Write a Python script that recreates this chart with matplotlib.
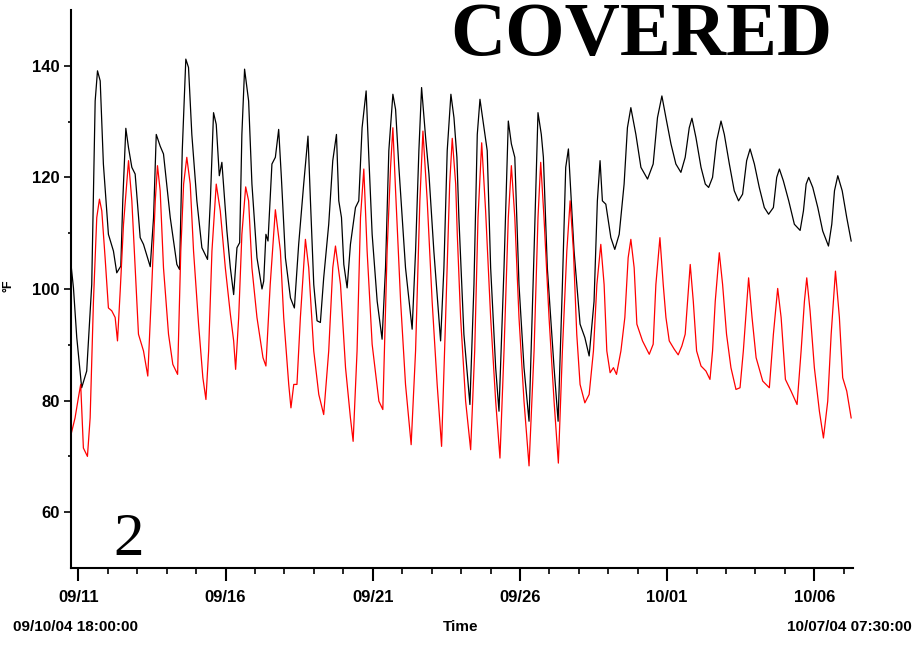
import matplotlib
matplotlib.use("Agg")
import matplotlib.pyplot as plt
import matplotlib.dates as mdates
from matplotlib import font_manager
import pandas as pd

# hours after 09/10/04 18:00 and temperatures (deg F)
hrs_top = [0, 2.0, 4.7, 8.7, 12.8, 16.9, 19.7, 21.6, 23.8, 26.4, 30.5, 34.6, 37.3, 40.6,
           42.2, 44.7, 46.9, 49.6, 52.3, 56.4, 59.1, 64.6, 67.3, 69.5, 72.7, 75.4, 80.9,
           86.3, 88.5, 90.7, 93.6, 95.8, 98.5, 102.6, 106.7, 111.3, 113.6, 116.2, 118.4,
           120.9, 123.0, 127.1, 129.9, 132.6, 135.3, 137.5, 139.3, 141.5, 144.8, 147.5,
           151.6, 155.7, 157.1, 158.9, 160.6, 163.8, 166.6, 169.3, 171.5, 174.8, 178.9,
           182.1, 185.6, 189.7, 193.2, 195.2, 197.9, 200.6, 203.3, 206.0, 210.1, 213.4,
           216.4, 218.3, 220.5, 222.4, 225.1, 227.8, 231.9, 234.6, 237.3, 240.6, 242.8,
           245.5, 249.6, 253.6, 256.4, 259.1, 262.4, 264.6, 267.3, 272.7, 278.1, 280.9,
           283.6, 285.8, 289.1, 291.8, 295.8, 301.3, 304.0, 306.7, 309.7, 312.2, 314.6,
           316.2, 320.3, 325.2, 328.5, 331.2, 333.4, 336.7, 339.3, 342.1, 346.2, 348.9,
           353.0, 356.5, 359.0, 361.8, 365.2, 369.3, 373.4, 377.5, 380.7, 383.4, 385.1,
           388.3, 393.8, 397.1, 400.6, 403.3, 405.5, 407.4, 410.1, 415.0, 418.9, 422.4,
           426.4, 429.1, 431.3, 433.2, 436.0, 440.1, 443.3, 446.9, 450.9, 453.6, 456.4,
           460.5, 464.6, 470.0, 474.6, 478.1, 481.7, 485.0, 489.1, 493.1, 497.2, 500.7,
           504.0, 506.2, 509.5, 513.6, 517.1, 519.8, 523.0, 526.3, 529.9, 532.6, 536.7,
           540.7, 544.2, 547.5, 550.8, 553.6, 557.1, 561.1, 565.2, 568.7, 572.6, 575.3,
           577.5, 580.7, 585.1, 589.7, 594.4, 597.1, 599.3, 601.4, 604.7, 608.8, 612.8,
           617.5, 620.2, 622.4, 625.1, 628.7, 632.4, 636.0]
temp_top = [104.4, 100.2, 91.3, 82.3, 85.3, 100.8, 133.7, 139.1, 137.3, 122.4, 109.8, 106.8,
            102.9, 104.1, 115.8, 128.8, 125.3, 121.8, 120.6, 109.2, 108.0, 104.0, 112.8,
            127.7, 125.6, 124.2, 112.8, 104.4, 103.5, 124.8, 141.2, 139.7, 127.7, 115.8,
            107.4, 105.3, 115.8, 131.6, 129.5, 120.3, 122.7, 110.4, 103.8, 99.0, 107.4,
            108.3, 127.7, 139.4, 133.7, 118.8, 105.6, 100.0, 101.4, 109.8, 108.6, 122.4,
            123.6, 128.6, 120.0, 105.6, 98.4, 96.6, 108.0, 118.8, 127.4, 115.8, 100.8,
            94.3, 94.0, 102.0, 111.6, 123.0, 127.7, 115.8, 112.8, 104.4, 100.2, 108.0,
            114.6, 115.8, 128.9, 135.5, 123.6, 109.8, 97.8, 91.0, 103.8, 124.8, 134.9,
            132.2, 121.8, 103.8, 92.8, 106.8, 124.8, 136.1, 127.1, 120.6, 106.8, 90.7,
            103.8, 124.8, 134.9, 130.7, 123.6, 112.8, 91.9, 79.3, 100.8, 127.7, 134.0,
            128.9, 124.8, 103.8, 85.9, 78.1, 103.8, 130.1, 126.0, 123.6, 100.8, 85.9,
            76.3, 106.8, 131.6, 127.7, 123.6, 103.8, 85.9, 76.3, 100.8, 121.8, 125.1,
            117.6, 106.8, 93.7, 91.3, 88.0, 97.8, 115.8, 123.0, 115.8, 115.2, 109.2,
            107.1, 109.8, 118.8, 128.9, 132.5, 127.7, 121.8, 119.7, 122.4, 130.7, 134.6,
            130.7, 126.0, 122.4, 120.9, 123.6, 128.9, 130.6, 127.1, 121.8, 118.8, 118.2,
            120.0, 126.5, 130.1, 127.7, 122.4, 117.6, 115.8, 117.0, 123.0, 125.1, 122.4,
            118.2, 114.6, 113.4, 114.6, 120.0, 121.5, 119.4, 115.8, 111.6, 110.5, 114.0,
            118.8, 120.0, 118.2, 114.6, 110.4, 107.7, 111.6, 117.6, 120.3, 117.6, 112.8,
            108.6]

hrs_low = [0, 3.3, 6.0, 7.9, 10.1, 13.4, 15.6, 18.3, 21.0, 23.2, 25.1, 27.8, 30.5, 33.2,
           36.0, 37.9, 40.1, 42.8, 46.9, 49.6, 52.3, 55.0, 59.1, 62.6, 65.9, 68.7, 70.5,
           72.7, 75.4, 79.5, 83.0, 86.9, 89.5, 91.8, 94.4, 97.2, 99.9, 104.0, 107.5,
           110.0, 112.2, 114.9, 118.4, 121.7, 125.8, 129.9, 132.6, 134.2, 136.7, 139.3,
           142.4, 144.8, 147.5, 151.6, 156.5, 158.9, 162.4, 166.6, 170.7, 173.4, 177.5,
           179.3, 181.6, 184.2, 187.0, 191.1, 193.8, 197.9, 202.0, 206.0, 210.1, 213.4,
           215.6, 219.7, 223.8, 227.8, 230.0, 233.2, 236.0, 238.7, 241.4, 245.5, 251.0,
           254.2, 257.7, 260.5, 262.4, 264.6, 268.7, 272.7, 277.3, 280.9, 284.4, 286.9,
           290.4, 294.4, 298.5, 302.1, 305.4, 308.7, 310.8, 313.6, 314.9, 317.6, 321.7,
           325.8, 329.1, 331.8, 334.8, 338.0, 342.1, 346.2, 349.7, 353.0, 356.5, 359.0,
           361.8, 365.2, 369.3, 373.4, 377.5, 380.7, 382.9, 385.6, 389.7, 393.8, 397.3,
           400.6, 404.2, 406.9, 409.6, 412.3, 415.0, 418.9, 422.4, 425.9, 428.7, 431.9,
           434.6, 436.8, 439.5, 442.2, 444.7, 448.3, 451.5, 454.2, 456.4, 459.1, 461.3,
           465.9, 471.4, 474.6, 476.8, 480.1, 482.8, 485.0, 487.7, 491.8, 495.0, 498.0,
           500.7, 502.6, 504.8, 507.3, 510.0, 513.6, 517.6, 520.9, 523.0, 525.2, 528.5,
           531.2, 534.4, 538.0, 542.1, 545.4, 548.1, 552.4, 555.2, 558.5, 563.9, 569.3,
           572.6, 576.1, 578.9, 582.4, 587.0, 591.9, 595.2, 597.9, 599.8, 602.5, 606.0,
           610.1, 613.4, 616.9, 619.7, 623.2, 626.4, 629.1, 632.4, 636.0]
temp_low = [73.9, 76.9, 80.5, 82.9, 71.5, 70.0, 76.9, 97.8, 112.8, 116.1, 114.0, 105.6,
            96.6, 96.1, 94.9, 90.7, 99.6, 111.6, 123.0, 115.8, 103.8, 91.9, 88.9, 84.4,
            100.8, 115.8, 122.1, 117.6, 103.8, 91.9, 86.5, 84.7, 106.8, 118.8, 123.6,
            118.8, 106.8, 93.7, 84.1, 80.2, 88.9, 106.8, 118.8, 114.0, 103.8, 95.5, 90.7,
            85.6, 94.9, 109.8, 118.3, 115.8, 103.8, 94.9, 87.7, 86.2, 100.8, 114.2, 106.8,
            94.9, 82.9, 78.7, 82.9, 82.9, 94.9, 108.9, 103.8, 88.9, 81.1, 77.5, 88.9,
            103.8, 107.7, 100.8, 85.9, 76.9, 72.7, 88.9, 112.8, 121.5, 106.8, 90.1, 79.9,
            78.4, 106.8, 121.8, 128.9, 117.6, 97.8, 82.9, 72.1, 88.9, 115.8, 128.3, 115.8,
            97.8, 82.9, 71.8, 94.9, 118.8, 127.0, 118.8, 109.8, 94.9, 79.9, 71.2, 88.9,
            112.8, 126.2, 114.0, 94.9, 79.9, 69.7, 88.9, 112.8, 122.1, 112.8, 94.9, 79.9,
            68.3, 88.9, 112.8, 122.7, 112.8, 94.9, 79.9, 68.8, 88.9, 106.8, 115.8, 106.8,
            91.9, 82.9, 79.6, 81.1, 88.9, 100.8, 108.0, 100.8, 88.9, 85.0, 85.9, 84.7,
            88.9, 94.9, 105.6, 108.9, 103.8, 93.7, 90.7, 88.3, 90.1, 100.8, 109.2, 100.8,
            94.9, 90.7, 89.2, 88.2, 89.8, 91.9, 97.8, 104.4, 97.8, 88.9, 86.2, 85.3, 83.8,
            88.9, 97.8, 106.5, 100.8, 91.9, 85.9, 82.0, 82.3, 88.9, 102.0, 94.9, 87.7,
            83.5, 82.3, 91.9, 100.1, 94.9, 83.8, 81.7, 79.3, 88.9, 97.8, 102.0, 96.1,
            85.9, 78.1, 73.3, 79.9, 91.9, 103.2, 94.9, 84.1, 81.7, 76.9]

start = pd.Timestamp("2004-09-10 18:00:00")
end = pd.Timestamp("2004-10-07 07:30:00")
title = "COVERED"

installed = {f.name for f in font_manager.fontManager.ttflist}
narrow = "Liberation Sans Narrow" if "Liberation Sans Narrow" in installed else "Liberation Sans"

W, H = 917, 645
fig = plt.figure(figsize=(W / 100, H / 100), dpi=100)
ax = fig.add_axes([71 / W, 1 - 568 / H, (853 - 71) / W, (568 - 10) / H])

t_top = start + pd.to_timedelta(hrs_top, unit="h")
t_low = start + pd.to_timedelta(hrs_low, unit="h")
ax.plot(t_top, temp_top, color="black", lw=0.9)
ax.plot(t_low, temp_low, color="#ff0000", lw=0.9)

ax.set_xlim(start, end)
ax.set_ylim(50, 150)
ax.set_yticks([60, 80, 100, 120, 140])
ax.set_yticks([70, 90, 110, 130], minor=True)
ax.xaxis.set_major_locator(mdates.DayLocator(bymonthday=[1, 6, 11, 16, 21, 26]))
ax.xaxis.set_minor_locator(mdates.DayLocator())
ax.xaxis.set_major_formatter(mdates.DateFormatter("%m/%d"))

for s in ["top", "right"]:
    ax.spines[s].set_visible(False)
for s in ["left", "bottom"]:
    ax.spines[s].set_linewidth(1.5)

ax.tick_params(axis="x", which="major", length=9, width=1.5, pad=7)
ax.tick_params(axis="x", which="minor", length=4, width=1.2)
ax.tick_params(axis="y", which="major", length=5, width=1.2, pad=3)
ax.tick_params(axis="y", which="minor", length=2, width=1.2)
for lab in ax.get_xticklabels() + ax.get_yticklabels():
    lab.set_fontfamily(narrow)
    lab.set_fontweight("bold")
    lab.set_fontsize(12)

lbl = dict(family=narrow, weight="bold", fontsize=11, va="center")
fig.text(13 / W, 1 - 627 / H, "09/10/04 18:00:00", ha="left", **lbl)
fig.text(461 / W, 1 - 627 / H, "Time", ha="center", **lbl)
fig.text(912 / W, 1 - 627 / H, "10/07/04 07:30:00", ha="right", **lbl)
fig.text(8 / W, 1 - 286 / H, "°F", rotation=90, ha="center", family=narrow,
         weight="bold", fontsize=9, va="center")

fig.text(113 / W, 1 - 555 / H, "2", family="Liberation Serif", fontsize=44,
         ha="left", va="baseline")
fig.text(450 / W, 1 - 55 / H, title, family="Liberation Serif", weight="bold",
         fontsize=55, ha="left", va="baseline")

fig.savefig("out.png", dpi=100)
